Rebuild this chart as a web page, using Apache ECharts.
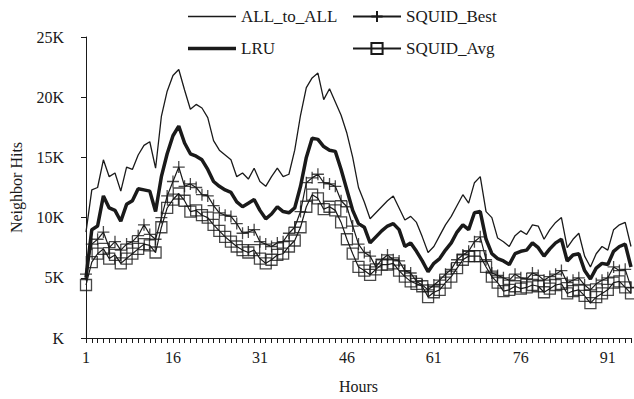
<!DOCTYPE html>
<html>
<head>
<meta charset="utf-8">
<script src="https://cdn.jsdelivr.net/npm/echarts@6/dist/echarts.min.js"></script>
<style>html,body{margin:0;padding:0;background:#fff}#c{width:634px;height:399px}</style>
</head>
<body>
<div id="c"></div>
<script>
var hours = [];
for (var i = 1; i <= 95; i++) hours.push(String(i));

var allToAll = [8.8,12.3,12.5,14.8,13.4,13.7,12.2,14.2,14.0,15.2,16.0,16.3,14.1,18.4,20.5,21.8,22.3,20.6,19.0,19.4,
  19.1,18.3,16.4,15.6,15.2,14.8,13.4,13.7,13.2,14.1,13.0,12.6,13.4,14.1,13.4,13.6,15.6,18.5,20.8,21.6,
  22.0,19.8,20.7,19.6,18.5,17.0,15.0,12.5,11.3,9.9,10.4,10.9,11.4,11.8,10.8,9.8,10.1,9.6,8.4,7.1,
  7.6,8.5,9.4,10.1,11.0,11.9,11.2,12.9,13.4,10.5,10.0,8.3,8.0,7.6,8.5,8.9,8.6,9.4,9.3,8.2,
  9.0,9.6,10.0,7.5,8.2,8.7,6.8,5.9,7.0,7.6,7.3,9.0,9.4,9.6,7.6];
var lru = [5.0,9.0,9.3,11.8,10.8,10.6,9.7,11.1,11.4,12.4,12.3,12.2,10.5,13.4,15.3,16.8,17.6,16.2,15.3,15.1,
  14.8,14.0,13.0,12.6,12.3,12.1,11.3,10.9,11.2,11.5,10.6,9.9,10.3,10.9,10.5,10.4,10.8,12.6,15.0,16.6,
  16.5,15.9,15.6,15.5,14.0,12.3,10.6,9.5,9.2,7.9,8.4,8.9,9.3,9.5,9.0,7.6,7.9,7.2,6.4,5.5,
  6.2,6.6,7.3,7.9,8.8,9.4,9.0,10.4,10.5,8.2,7.0,6.6,6.4,6.1,7.0,7.2,7.3,7.9,7.5,6.8,
  7.4,7.9,8.2,6.4,6.9,7.0,5.6,4.9,5.8,6.2,6.1,7.2,7.6,7.8,5.9];
var squidBest = [5.3,7.8,8.2,8.8,7.5,8.0,7.3,7.8,8.0,8.5,9.4,8.6,8.2,10.0,11.8,13.0,14.2,12.6,12.8,12.5,
  11.9,11.8,11.0,10.4,10.2,10.1,9.5,8.7,8.8,9.0,8.0,7.8,7.6,7.9,8.0,8.7,9.2,10.5,12.9,13.3,
  13.6,12.9,12.8,12.6,11.4,10.9,9.3,7.8,7.1,6.8,5.9,6.5,6.9,6.5,6.4,5.6,5.4,4.7,4.4,4.0,
  4.4,4.8,5.3,5.7,6.5,6.9,7.2,8.0,8.4,6.5,5.4,5.2,5.0,4.8,5.3,5.0,4.9,5.4,5.2,4.8,
  5.1,5.3,5.6,4.6,4.8,5.0,4.4,4.0,4.5,4.8,5.0,5.9,5.6,5.7,4.2];
var squidAvg = [4.4,6.3,7.0,7.4,6.6,6.9,6.2,6.6,7.0,7.4,7.8,7.7,7.1,9.2,10.8,11.5,12.0,11.4,10.5,10.6,
  10.2,10.0,9.4,8.9,8.4,8.0,7.6,7.3,7.1,7.3,6.6,6.2,6.5,6.9,7.0,7.6,8.1,9.2,10.9,11.9,
  11.6,10.7,10.9,10.6,9.6,8.2,7.0,5.9,5.6,5.25,5.7,6.1,6.1,6.2,5.6,5.1,4.7,4.5,4.3,3.4,
  3.8,4.0,4.6,5.1,5.8,6.5,6.8,6.8,6.8,5.9,5.1,4.6,3.9,4.0,4.3,4.1,4.2,4.4,4.3,3.8,
  4.1,4.4,4.5,3.7,3.9,4.0,3.5,2.9,3.4,3.7,4.0,4.6,4.7,4.2,3.7];

function k(arr) { return arr.map(function (v) { return Math.round(v * 1000); }); }

var FONT = 'Liberation Serif';
var INK = '#1a1a1a';
var PLUS = 'path://M5,0L5,10M0,5L10,5';
var markerStyle = { color: 'none', borderColor: INK, borderWidth: 1.3 };
var chart = echarts.init(document.getElementById('c'), null, { renderer: 'svg' });
chart.setOption({
  backgroundColor: '#fff',
  animation: false,
  textStyle: { fontFamily: FONT, color: INK },
  grid: { left: 85, right: 3, top: 37, bottom: 61 },
  legend: [
    { data: [
        { name: 'ALL_to_ALL', icon: 'path://M0,0H48V1.3H0Z' },
        { name: 'LRU', icon: 'path://M0,0H48V3.6H0Z' }
      ],
      orient: 'vertical', left: 183, top: 3, itemWidth: 48, itemHeight: 14, itemGap: 15,
      textStyle: { fontFamily: FONT, fontSize: 17, color: INK }, selectedMode: false },
    { data: ['SQUID_Best', 'SQUID_Avg'], orient: 'vertical', left: 347, top: 3, itemWidth: 48, itemHeight: 14, itemGap: 15,
      textStyle: { fontFamily: FONT, fontSize: 17, color: INK }, selectedMode: false }
  ],
  xAxis: {
    type: 'category', data: hours, boundaryGap: false,
    name: 'Hours', nameLocation: 'middle', nameGap: 40,
    nameTextStyle: { fontFamily: FONT, fontSize: 16, color: INK },
    axisLine: { show: true, lineStyle: { color: INK, width: 1 } },
    axisTick: { show: true, interval: 0, length: 5, lineStyle: { color: INK } },
    axisLabel: { interval: 14, fontFamily: FONT, fontSize: 16, color: INK, margin: 11 },
    splitLine: { show: false }
  },
  yAxis: {
    type: 'value', min: 0, max: 25000, interval: 5000,
    name: 'Neighbor Hits', nameLocation: 'middle', nameGap: 62,
    nameTextStyle: { fontFamily: FONT, fontSize: 16, color: INK },
    axisLine: { show: true, lineStyle: { color: INK, width: 1 } },
    axisTick: { show: true, length: 5, lineStyle: { color: INK } },
    axisLabel: { fontFamily: FONT, fontSize: 16, color: INK, margin: 22,
      formatter: function (v) { return v === 0 ? 'K' : (v / 1000) + 'K'; } },
    splitLine: { show: false }
  },
  series: [
    { name: 'ALL_to_ALL', type: 'line', data: k(allToAll), showSymbol: false, symbol: 'none',
      lineStyle: { color: INK, width: 1.3 }, itemStyle: { color: INK }, z: 2 },
    { name: 'LRU', type: 'line', data: k(lru), showSymbol: false, symbol: 'none',
      lineStyle: { color: INK, width: 3.5 }, itemStyle: { color: INK }, z: 2 },
    { name: 'SQUID_Best', type: 'line', data: k(squidBest), showSymbol: false,
      symbol: PLUS, symbolSize: 12,
      lineStyle: { color: INK, width: 1.2 }, itemStyle: markerStyle, z: 3 },
    { name: 'SQUID_Avg', type: 'line', data: k(squidAvg), showSymbol: false,
      symbol: 'rect', symbolSize: 11,
      lineStyle: { color: INK, width: 1.2 }, itemStyle: markerStyle, z: 3 },
    { name: 'SQUID_Best', type: 'scatter', data: k(squidBest),
      symbol: PLUS, symbolSize: 12, itemStyle: markerStyle, z: 4 },
    { name: 'SQUID_Avg', type: 'scatter', data: k(squidAvg),
      symbol: 'rect', symbolSize: 11, itemStyle: markerStyle, z: 4 }
  ]
});
</script>
</body>
</html>
